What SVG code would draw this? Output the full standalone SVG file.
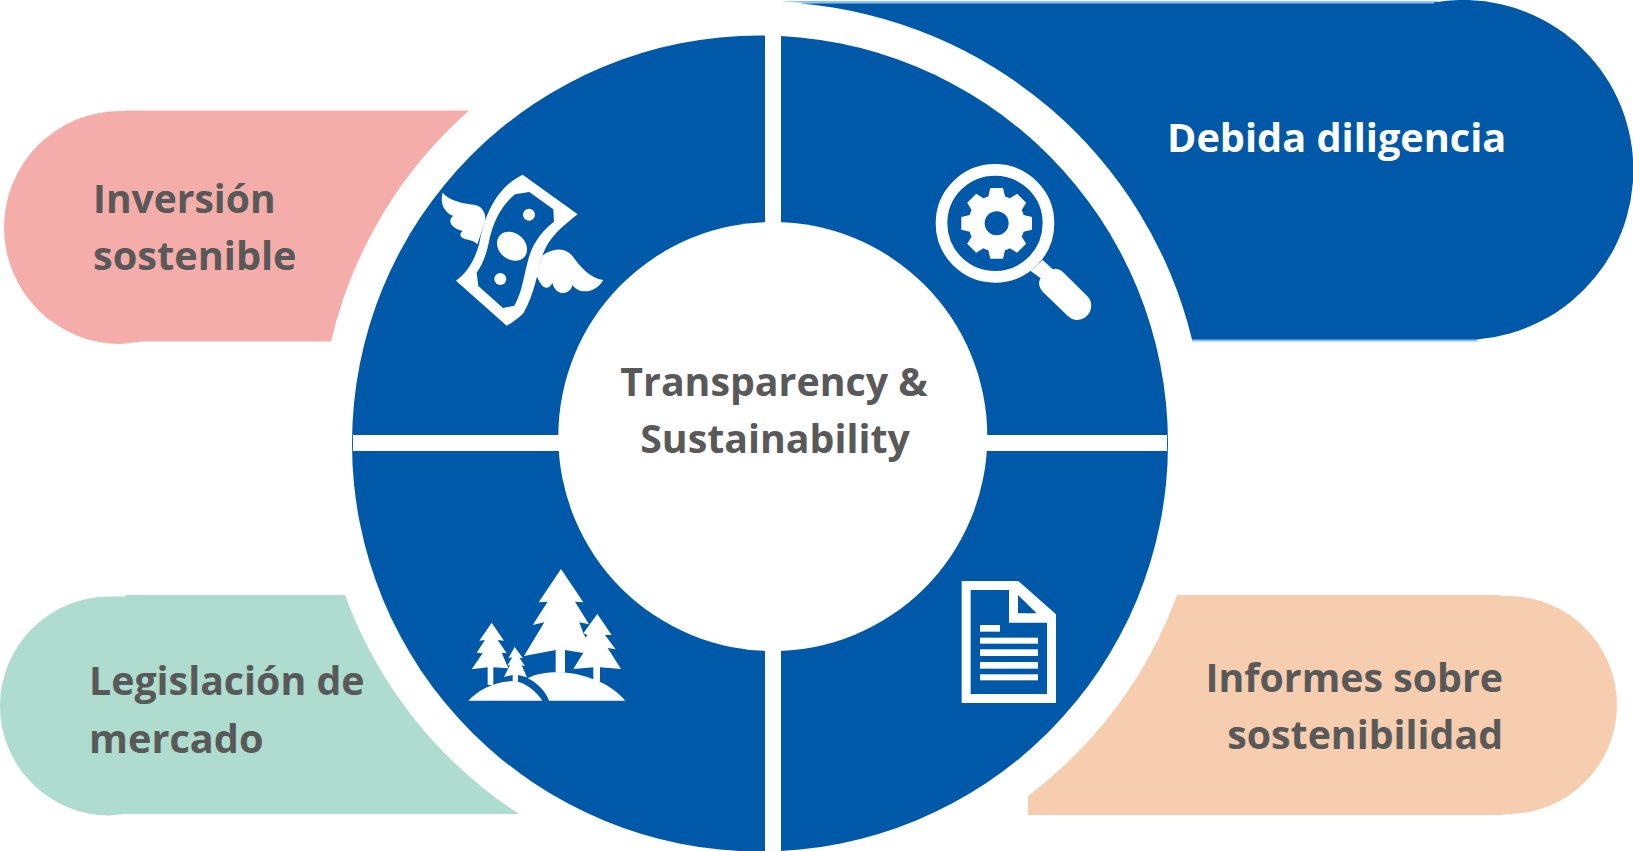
<svg xmlns="http://www.w3.org/2000/svg" width="1633" height="851" viewBox="0 0 1633 851">
<style>
.t{font-family:"Open Sans","Liberation Sans",sans-serif;font-weight:700;font-size:39.3px;fill:#595959}
.l{font-size:39.7px}
.w{fill:#fff}
.b{fill:#0058A8}
</style>
<defs><polygon id="tooth" class="w" points="-25,-81 -19,-106 19,-106 25,-81 0,-70"/></defs>
<rect width="1633" height="851" fill="#fff"/>
<g id="node-inversion">
<path d="M469,110.5 L125,110.5 L125,111 L120.5,111 A116.5,116.5 0 0 0 120.5,344 L142,341.5 L331,341.5 A442,442 0 0 1 469,110.5Z" fill="#F5ADAA"/>
<text class="t" x="93" y="213" style="font-size:39px">Inversión</text>
<text class="t l" x="93" y="270">sostenible</text>
</g>
<g id="node-legislacion">
<path d="M345,595 L125,595 L125,596.5 L109.5,596.5 A109.5,109.5 0 0 0 109.5,815.5 L125,814 L519,814 A442,442 0 0 1 345,595Z" fill="#AEDDCF"/>
<text class="t" x="89" y="695">Legislación de</text>
<text class="t l" x="89" y="753">mercado</text>
</g>
<g id="node-informes">
<path d="M1177,595 L1500,595 L1500,596 L1508,596 A109,109 0 0 1 1508,814 L1500,815 L1028,815 L1028,796 A442,442 0 0 0 1177,595Z" fill="#F6CEAF"/>
<text class="t" x="1503" y="692" text-anchor="end">Informes sobre</text>
<text class="t" x="1503" y="749" text-anchor="end">sostenibilidad</text>
</g>
<g id="node-debida">
<path d="M780,1 L1438,1 L1438,5 L830,5Z M1192,338 L1477,338 L1477,341.5 L1192,341.5Z" fill="#8FC1F5"/>
<path d="M800,3.6 L1434,3.6 L1434,2.5 A170,170 0 1 1 1477,339.4 L1192,339.4 A442,442 0 0 0 800,3.6Z" class="b"/>
<text class="t l" x="1167" y="152" style="fill:#fff">Debida diligencia</text>
</g>
<g id="node-center">
<circle class="b" cx="760" cy="443.5" r="408"/>
<rect class="w" x="765" y="0" width="16" height="851"/>
<rect class="w" x="353" y="435" width="814" height="16"/>
<circle class="w" cx="772.8" cy="436.5" r="214.5"/>
<text class="t" x="774" y="396" text-anchor="middle">Transparency &amp;</text>
<text class="t" x="775" y="453" text-anchor="middle">Sustainability</text>
</g>
<g id="icon-money" transform="translate(420,150) scale(.3333)">
<path class="w" d="M308,74 L473,193 C420,235 385,265 368,315 C352,365 345,430 310,490 C295,505 275,520 260,527 L108,392 C140,370 165,330 178,280 C190,220 215,120 308,74Z"/>
<path class="b" d="M285,133 L328,126 L400,178 L402,215 C365,245 335,280 322,340 C310,385 305,430 283,467 L249,474 L175,408 L170,368 C190,340 200,310 208,270 C220,215 245,165 285,133Z"/>
<circle class="w" cx="327" cy="194" r="18"/>
<ellipse class="w" cx="276" cy="289" rx="49" ry="39" transform="rotate(40 276 289)"/>
<circle class="w" cx="241" cy="387" r="18"/>
<path class="w" d="M68,128 C85,150 125,160 165,165 C188,170 198,190 196,212 L172,283 C160,268 135,272 125,262 C118,255 122,248 128,243 C110,240 85,225 92,208 C93,203 97,200 100,198 C75,190 58,160 68,128Z"/>
<path class="w" d="M367,317 C395,295 430,290 455,315 C480,350 510,385 550,390 C535,415 510,430 480,422 C470,418 460,410 457,405 C455,425 430,435 415,425 C405,420 400,410 397,398 C390,415 375,418 365,405 C358,395 352,385 350,376Z"/>
</g>
<g id="icon-search" transform="translate(910,150) scale(.3333)">
<circle cx="255" cy="220" r="160.5" fill="none" stroke="#fff" stroke-width="35"/>
<path class="w" d="M398,330 L428,358 C440,352 455,360 465,372 L535,442 C555,465 540,510 500,510 C485,510 475,500 465,490 L398,425 C385,410 385,395 392,385 L362,363Z"/>
<g transform="translate(260,220)">
<circle class="w" r="85"/>
<use href="#tooth"/><use href="#tooth" transform="rotate(45)"/><use href="#tooth" transform="rotate(90)"/><use href="#tooth" transform="rotate(135)"/><use href="#tooth" transform="rotate(180)"/><use href="#tooth" transform="rotate(225)"/><use href="#tooth" transform="rotate(270)"/><use href="#tooth" transform="rotate(315)"/>
<circle class="b" r="36"/>
</g>
</g>
<g id="icon-trees" transform="translate(450,550) scale(.3333)">
<polygon class="w" points="333,57 400,157 375,155 417,223 388,217 400,250 430,305 395,308 345,300 345,368 317,368 317,300 222,318 283,217 248,225 293,155 266,157"/>
<polygon class="w" points="442,192 485,255 465,255 497,298 473,294 513,357 450,352 450,395 430,390 430,352 370,357 402,305 388,297 412,255 400,250"/>
<polygon class="w" points="125,218 162,272 143,270 170,310 155,308 175,355 130,352 130,405 113,405 113,352 65,358 98,310 80,308 105,270 88,272"/>
<polygon class="w" points="194,291 219,325 208,323 225,348 215,346 231,382 204,375 204,395 188,395 188,375 162,381 180,345 172,347 187,322 175,325"/>
<path class="w" d="M297,452 C290,430 265,400 233,385 C270,365 340,362 390,375 C450,390 495,415 526,452Z"/>
<path class="w" d="M55,452 C85,420 130,395 190,393 C225,395 260,425 277,452Z"/>
</g>
<g id="icon-document" transform="translate(940,565) scale(.3333)">
<path class="w" d="M65,48 L235,48 L348,148 L348,414 L65,414Z"/>
<path class="b" d="M92,75 L207,75 L207,173 L321,173 L321,387 L92,387Z M234,90 L290,145 L234,145Z"/>
<rect class="w" x="120" y="180" width="60" height="20"/>
<rect class="w" x="120" y="218" width="174" height="18"/>
<rect class="w" x="120" y="253" width="174" height="20"/>
<rect class="w" x="120" y="291" width="174" height="20"/>
<rect class="w" x="120" y="328" width="174" height="18"/>
</g>
</svg>
